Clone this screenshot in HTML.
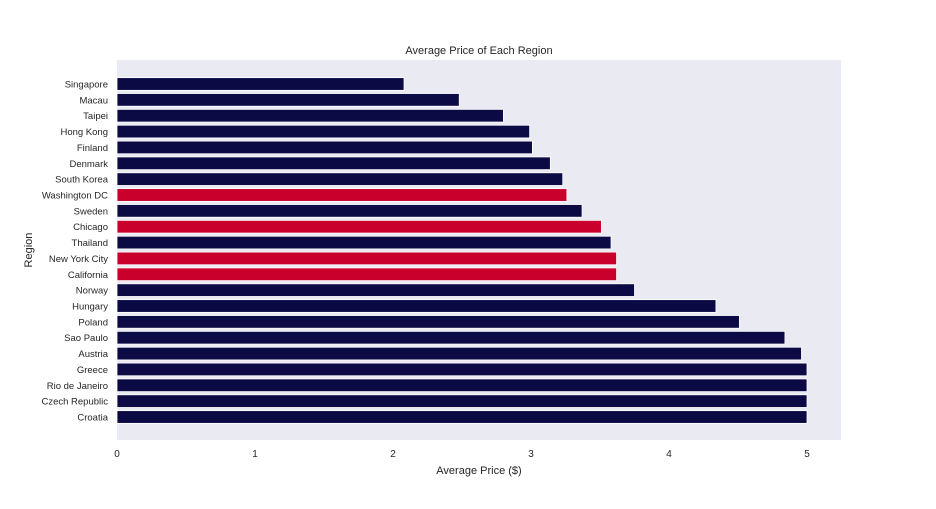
<!DOCTYPE html>
<html><head><meta charset="utf-8"><style>
body{margin:0;background:#fff;}
svg text{font-family:"Liberation Sans",Arial,sans-serif;fill:#262626;}
</style></head><body>
<svg id="chart" width="936" height="504" xmlns="http://www.w3.org/2000/svg">
<rect x="117" y="60" width="724" height="380" fill="#eaeaf2"/>
<text x="479" y="54" font-size="11" text-anchor="middle">Average Price of Each Region</text>
<text x="479" y="474" font-size="11" text-anchor="middle">Average Price ($)</text>
<text x="32" y="250" font-size="11" text-anchor="middle" transform="rotate(-90 32 250)">Region</text>
<g id="bars"></g><g id="yt"></g><g id="xt"></g>
</svg>
<script>
const regions=["Singapore","Macau","Taipei","Hong Kong","Finland","Denmark","South Korea","Washington DC","Sweden","Chicago","Thailand","New York City","California","Norway","Hungary","Poland","Sao Paulo","Austria","Greece","Rio de Janeiro","Czech Republic","Croatia"];
const prices=[2.08,2.48,2.80,2.99,3.01,3.14,3.23,3.26,3.37,3.51,3.58,3.62,3.62,3.75,4.34,4.51,4.84,4.96,5.0,5.0,5.0,5.0];
const highlighted=["Washington DC","Chicago","New York City","California"];
const xTicks=[0,1,2,3,4,5];
const NS="http://www.w3.org/2000/svg";
const x=v=>117+v*138;
const n=regions.length;
const top0=84,bottom0=417;
const step=(bottom0-top0)/(n-1);
const y=i=>top0+i*step;
const bh=step*0.8;
const bars=document.getElementById('bars'),yt=document.getElementById('yt'),xt=document.getElementById('xt');
regions.forEach((r,i)=>{
  const b=document.createElementNS(NS,'rect');
  
  
  b.setAttribute('x',x(0));b.setAttribute('y',y(i)-bh/2);
  b.setAttribute('width',x(prices[i])-x(0));b.setAttribute('height',bh);
  b.setAttribute('fill',highlighted.includes(r)?'#c8002b':'#0b0a45');
  b.setAttribute('stroke','#fff');b.setAttribute('stroke-width','0.8');
  bars.appendChild(b);
  const t=document.createElementNS(NS,'text');
  
  
  t.setAttribute('x',108);t.setAttribute('y',y(i)+3.5);
  t.setAttribute('font-size','9.5');t.setAttribute('text-anchor','end');
  t.textContent=r;yt.appendChild(t);
});
xTicks.forEach(v=>{
  const t=document.createElementNS(NS,'text');
  
  
  t.setAttribute('x',x(v));t.setAttribute('y',457);
  t.setAttribute('font-size','10');t.setAttribute('text-anchor','middle');
  t.textContent=v;xt.appendChild(t);
});
</script>
</body></html>
